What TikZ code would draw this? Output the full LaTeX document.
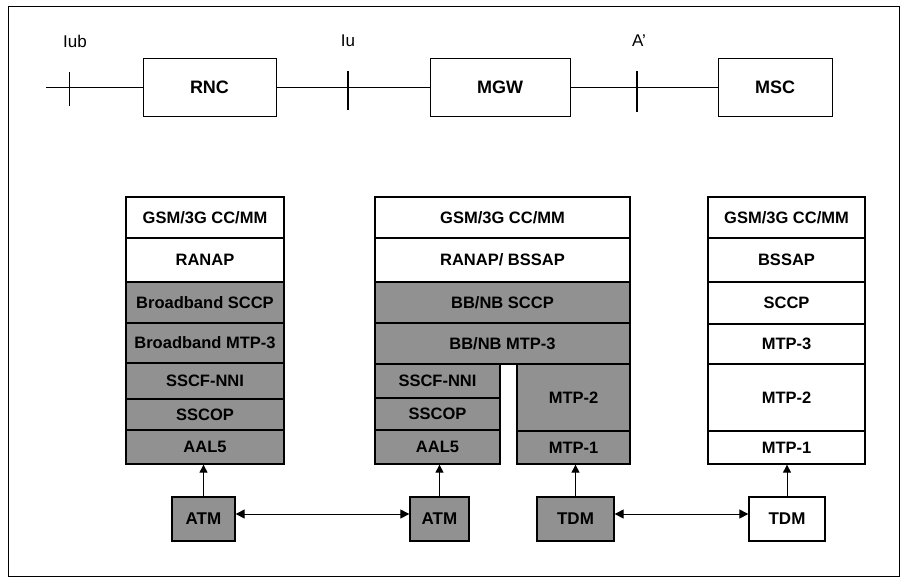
\documentclass[tikz,border=0pt]{standalone}
\usepackage{fontspec}
\setmainfont{Liberation Sans}
\usetikzlibrary{arrows.meta}
\definecolor{layergrey}{RGB}{145,145,145}
\begin{document}
\begin{tikzpicture}[x=1pt,y=-1pt,
  layer/.style={draw, line width=1.3pt, inner sep=0pt, font=\fontsize{16.5}{17}\selectfont\bfseries},
  glayer/.style={layer, fill=layergrey},
  wlayer/.style={layer, fill=white},
  topbox/.style={draw, line width=1pt, inner sep=0pt, minimum height=58pt, font=\fontsize{18}{19}\selectfont\bfseries},
  phys/.style={draw, line width=1.3pt, inner sep=0pt, minimum height=44pt, font=\fontsize{17}{18}\selectfont\bfseries},
  tick/.style={line width=1.4pt},
  ifl/.style={font=\fontsize{17}{18}\selectfont},
  up/.style={-{Triangle[length=8pt,width=8pt]}, line width=1pt},
  both/.style={{Triangle[length=9pt,width=9pt]}-{Triangle[length=9pt,width=9pt]}, line width=1pt}
]
\useasboundingbox (0,0) rectangle (905,581);
\draw[line width=1pt] (8,6) rectangle (899,576);

% top row
\node[topbox, minimum width=133pt] (rnc) at (209.5,87) {RNC};
\node[topbox, minimum width=140pt] (mgw) at (500,87) {MGW};
\node[topbox, minimum width=114pt] (msc) at (775,87) {MSC};
\coordinate (lstart) at (46,87);
\draw[line width=1pt] (lstart) -- (rnc.west);
\draw[line width=1pt] (rnc.east) -- (mgw.west);
\draw[line width=1pt] (mgw.east) -- (msc.west);
\coordinate (t1a) at (69,72); \coordinate (t1b) at (69,106);
\coordinate (t2a) at (348,71); \coordinate (t2b) at (348,110);
\coordinate (t3a) at (637,71); \coordinate (t3b) at (637,112);
\draw[line width=1pt] (t1a) -- (t1b);
\draw[tick] (t2a) -- (t2b);
\draw[tick] (t3a) -- (t3b);
\node[ifl] (iub) at (75,41) {Iub};
\node[ifl] (iu) at (348,41) {Iu};
\node[ifl] (ap) at (639,41) {A'};

% left stack (x 126-284)
\node[wlayer, minimum width=158pt, minimum height=41pt] (l1) at (205,217.5) {GSM/3G CC/MM};
\node[wlayer, minimum width=158pt, minimum height=44pt] (l2) at (205,260) {RANAP};
\node[glayer, minimum width=158pt, minimum height=41pt] (l3) at (205,302.5) {Broadband SCCP};
\node[glayer, minimum width=158pt, minimum height=40pt] (l4) at (205,343) {Broadband MTP-3};
\node[glayer, minimum width=158pt, minimum height=36pt] (l5) at (205,381) {SSCF-NNI};
\node[glayer, minimum width=158pt, minimum height=31pt] (l6) at (205,414.5) {SSCOP};
\node[glayer, minimum width=158pt, minimum height=34pt] (l7) at (205,447) {AAL5};

% middle stack (x 375-630)
\node[wlayer, minimum width=255pt, minimum height=41pt] (m1) at (502.5,217.5) {GSM/3G CC/MM};
\node[wlayer, minimum width=255pt, minimum height=44pt] (m2) at (502.5,260) {RANAP/ BSSAP};
\node[glayer, minimum width=255pt, minimum height=41pt] (m3) at (502.5,302.5) {BB/NB SCCP};
\node[glayer, minimum width=255pt, minimum height=41pt] (m4) at (502.5,343.5) {BB/NB MTP-3};
\node[glayer, minimum width=125pt, minimum height=34pt] (m5) at (437.5,381) {SSCF-NNI};
\node[glayer, minimum width=125pt, minimum height=32pt] (m6) at (437.5,414) {SSCOP};
\node[glayer, minimum width=125pt, minimum height=34pt] (m7) at (437.5,447) {AAL5};
\node[glayer, minimum width=113pt, minimum height=67pt] (m8) at (573.5,397.5) {MTP-2};
\node[glayer, minimum width=113pt, minimum height=33pt] (m9) at (573.5,447.5) {MTP-1};

% right stack (x 708-865)
\node[wlayer, minimum width=157pt, minimum height=41pt] (r1) at (786.5,217.5) {GSM/3G CC/MM};
\node[wlayer, minimum width=157pt, minimum height=44pt] (r2) at (786.5,260) {BSSAP};
\node[wlayer, minimum width=157pt, minimum height=42pt] (r3) at (786.5,303) {SCCP};
\node[wlayer, minimum width=157pt, minimum height=40pt] (r4) at (786.5,344) {MTP-3};
\node[wlayer, minimum width=157pt, minimum height=67pt] (r5) at (786.5,397.5) {MTP-2};
\node[wlayer, minimum width=157pt, minimum height=33pt] (r6) at (786.5,447.5) {MTP-1};

% physical boxes
\node[phys, fill=layergrey, minimum width=63pt] (atm1) at (203.5,519) {ATM};
\node[phys, fill=layergrey, minimum width=59pt] (atm2) at (439.5,519) {ATM};
\node[phys, fill=layergrey, minimum width=77pt] (tdm1) at (575.5,519) {TDM};
\node[phys, fill=white, minimum width=76pt] (tdm2) at (787,519) {TDM};

\draw[up] (atm1.north) -- (atm1.north |- l7.south);
\draw[up] (atm2.north) -- (atm2.north |- m7.south);
\draw[up] (tdm1.north) -- (tdm1.north |- m9.south);
\draw[up] (tdm2.north) -- (tdm2.north |- r6.south);

\draw[both] ([yshift=5pt]atm1.east) -- ([yshift=5pt]atm2.west);
\draw[both] ([yshift=5pt]tdm1.east) -- ([yshift=5pt]tdm2.west);
\end{tikzpicture}
\end{document}
